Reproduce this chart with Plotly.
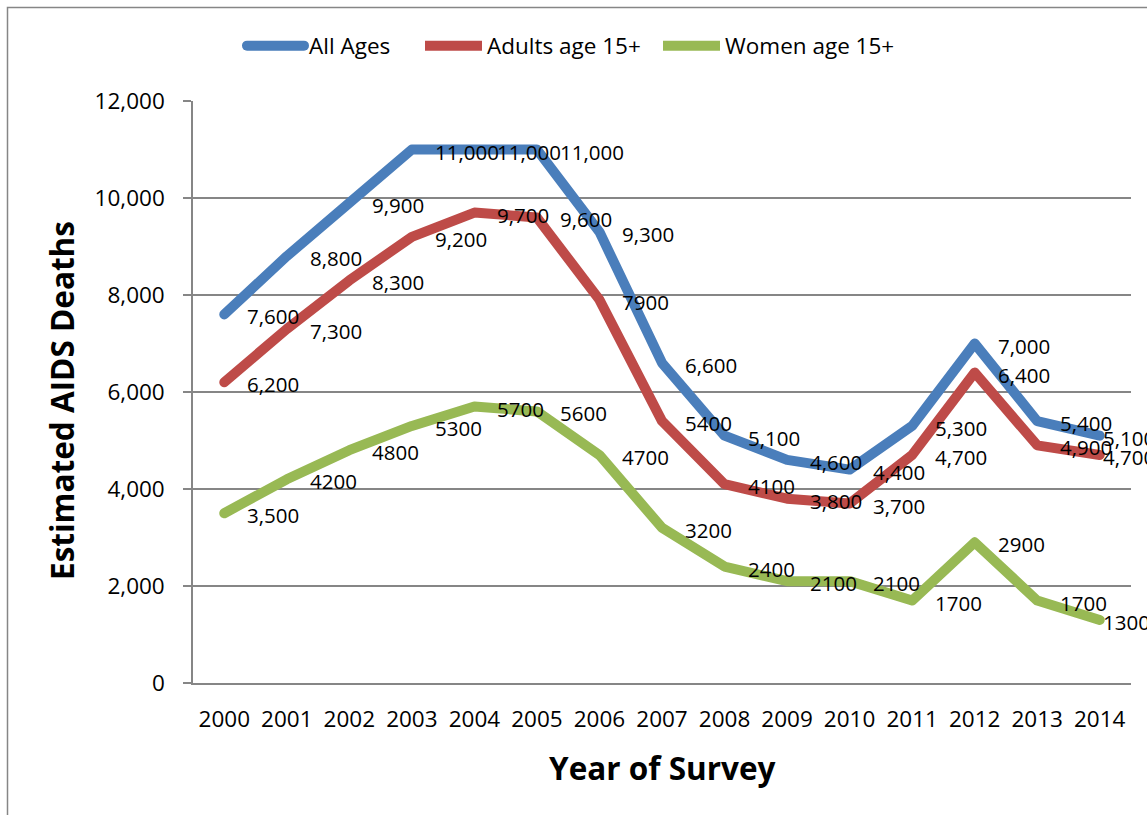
import plotly.graph_objects as go

# Survey years and estimated AIDS deaths per group
years = [2000, 2001, 2002, 2003, 2004, 2005, 2006, 2007,
         2008, 2009, 2010, 2011, 2012, 2013, 2014]
all_ages = [7600, 8800, 9900, 11000, 11000, 11000, 9300, 6600,
            5100, 4600, 4400, 5300, 7000, 5400, 5100]
adults_15 = [6200, 7300, 8300, 9200, 9700, 9600, 7900, 5400,
             4100, 3800, 3700, 4700, 6400, 4900, 4700]
women_15 = [3500, 4200, 4800, 5300, 5700, 5600, 4700, 3200,
            2400, 2100, 2100, 1700, 2900, 1700, 1300]

# Whether each data label uses a thousands separator
all_ages_comma = [True] * 15
adults_comma = [True] * 6 + [False] * 3 + [True] * 6
women_comma = [True] + [False] * 14

series = [
    ("All Ages", all_ages, all_ages_comma, "#4A7EBB", "legend", 250),
    ("Adults age 15+", adults_15, adults_comma, "#BE4B48", "legend2", 428),
    ("Women age 15+", women_15, women_comma, "#98B954", "legend3", 666),
]

FONT = "Open Sans"
GRID = "#868686"

# Plot area in pixels (figure is 1147 x 815)
L, R, T, B = 193, 1131, 101, 683
W, H = R - L, B - T


def px_x(px):
    return (px - L) / W


def px_y(py):
    return (B - py) / H


fig = go.Figure()
annotations = []
legends = {}
for name, vals, comma, color, leg, leg_left in series:
    fig.add_trace(go.Scatter(
        x=years, y=vals, name=name, mode="lines",
        line=dict(color=color, width=10),
        legend=leg, hoverinfo="skip",
    ))
    legends[leg] = dict(
        orientation="h", x=px_x(leg_left - 8), y=px_y(46),
        xanchor="left", yanchor="middle", itemwidth=57,
        font=dict(family=FONT, size=22.5, color="#000000"),
        bgcolor="rgba(0,0,0,0)", borderwidth=0, itemclick=False,
    )
    for i, (yr, v) in enumerate(zip(years, vals)):
        label = f"{v:,}" if comma[i] else str(v)
        annotations.append(dict(
            x=yr, y=v, xref="x", yref="y", text=label, showarrow=False,
            xanchor="left", yanchor="middle",
            xshift=1 if i == len(years) - 1 else 21, yshift=-2,
            font=dict(family=FONT, size=20.5, color="#000000"),
        ))

# Axis titles
annotations.append(dict(
    text="<b>Year of Survey</b>", xref="paper", yref="paper",
    x=0.5, y=px_y(767), xanchor="center", yanchor="middle", showarrow=False,
    font=dict(family=FONT, size=31.5, color="#000000"),
))
annotations.append(dict(
    text="<b>Estimated AIDS Deaths</b>", xref="paper", yref="paper",
    x=px_x(62), y=px_y(401), xanchor="center", yanchor="middle",
    textangle=-90, showarrow=False,
    font=dict(family=FONT, size=31.5, color="#000000"),
))

fig.update_layout(
    width=1147, height=815,
    margin=dict(l=L, r=1147 - R, t=T, b=815 - B, pad=0),
    paper_bgcolor="#FFFFFF", plot_bgcolor="#FFFFFF",
    font=dict(family=FONT, size=22.5, color="#000000"),
    showlegend=True,
    annotations=annotations,
    shapes=[dict(
        type="rect", xref="paper", yref="paper",
        x0=px_x(7.5), x1=px_x(1200), y0=px_y(860), y1=px_y(7.5),
        line=dict(color=GRID, width=1.5), fillcolor="rgba(0,0,0,0)",
        layer="below",
    )],
    **legends,
)

fig.update_xaxes(
    range=[1999.5, 2014.5], tickvals=years, ticktext=[str(y) for y in years],
    showline=True, linecolor=GRID, linewidth=1.5,
    showgrid=False, ticks="", ticklabelstandoff=15,
    tickfont=dict(family=FONT, size=22.5, color="#000000"),
    zeroline=False, fixedrange=True,
)
fig.update_yaxes(
    range=[0, 12000], dtick=2000, tickformat=",",
    showline=True, linecolor=GRID, linewidth=1.5,
    showgrid=True, gridcolor=GRID, gridwidth=1.5,
    ticks="outside", ticklen=8, tickcolor=GRID, tickwidth=1.5,
    ticklabelstandoff=14,
    tickfont=dict(family=FONT, size=22.5, color="#000000"),
    zeroline=False, fixedrange=True,
)

round_joins = (
    "document.querySelectorAll('.scatterlayer path.js-line, .legend path')"
    ".forEach(function(p){p.style.strokeLinejoin='round';"
    "p.style.strokeLinecap='round';});"
)
fig.write_html("out.html", config={"displayModeBar": False},
               post_script=round_joins)
